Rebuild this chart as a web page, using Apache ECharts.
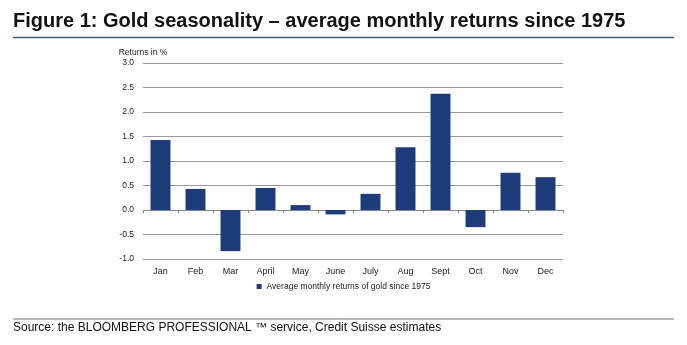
<!DOCTYPE html>
<html><head><meta charset="utf-8">
<script src="https://cdn.jsdelivr.net/npm/echarts@6/dist/echarts.min.js"></script>
<style>html,body{margin:0;padding:0;background:#fff}#c{width:687px;height:345px}</style>
</head><body><div id="c"></div>
<script>
const categories = ['Jan','Feb','Mar','April','May','June','July','Aug','Sept','Oct','Nov','Dec'];
const returns = [1.43, 0.43, -0.84, 0.45, 0.10, -0.09, 0.33, 1.28, 2.37, -0.35, 0.76, 0.67];
const yTicks = {min: -1, max: 3, interval: 0.5};
const seriesName = 'Average monthly returns of gold since 1975';
const SANS = '"Liberation Sans", Arial, sans-serif';
const chart = echarts.init(document.getElementById('c'));
chart.setOption({
  animation: false,
  title: [{
    text: 'Figure 1: Gold seasonality \u2013 average monthly returns since 1975',
    left: 13, top: 11, padding: 0,
    textStyle: {fontFamily: SANS, fontWeight: 'bold', fontSize: 20, color: '#111'}
  }, {
    text: 'Source: the BLOOMBERG PROFESSIONAL \u2122 service, Credit Suisse estimates',
    left: 13, top: 322, padding: 0,
    textStyle: {fontFamily: SANS, fontWeight: 'normal', fontSize: 12, color: '#111'}
  }],
  graphic: [
    {type: 'line', shape: {x1: 13, y1: 37.5, x2: 674, y2: 37.5}, style: {stroke: '#4a5a70', lineWidth: 1.5}},
    {type: 'line', shape: {x1: 13, y1: 319, x2: 674, y2: 319}, style: {stroke: '#777', lineWidth: 1}}
  ],
  legend: {
    data: [seriesName], top: 282, left: 'center', padding: 0,
    itemWidth: 5, itemHeight: 5, itemGap: 3,
    icon: 'rect',
    textStyle: {fontFamily: SANS, fontSize: 8.5, color: '#222'}
  },
  grid: {left: 143, right: 124, top: 63, bottom: 86},
  xAxis: {
    type: 'category', data: categories,
    axisLine: {onZero: true, lineStyle: {color: '#888', width: 1}},
    axisTick: {show: true, inside: false, length: 3, lineStyle: {color: '#888'}},
    axisLabel: {fontFamily: SANS, fontSize: 9, color: '#222', margin: 8},
    position: 'bottom'
  },
  yAxis: {
    type: 'value', min: yTicks.min, max: yTicks.max, interval: yTicks.interval,
    name: 'Returns in %', nameGap: 6,
    nameTextStyle: {fontFamily: SANS, fontSize: 8.5, color: '#222', align: 'center'},
    axisLine: {show: false}, axisTick: {show: false},
    axisLabel: {formatter: v => v.toFixed(1), fontFamily: SANS, fontSize: 8.5, color: '#222', margin: 9},
    splitLine: {lineStyle: {color: '#999', width: 1}}
  },
  series: [{
    name: seriesName, type: 'bar', data: returns,
    barWidth: '57%',
    itemStyle: {color: '#1f3c7a'}
  }]
});
</script></body></html>
